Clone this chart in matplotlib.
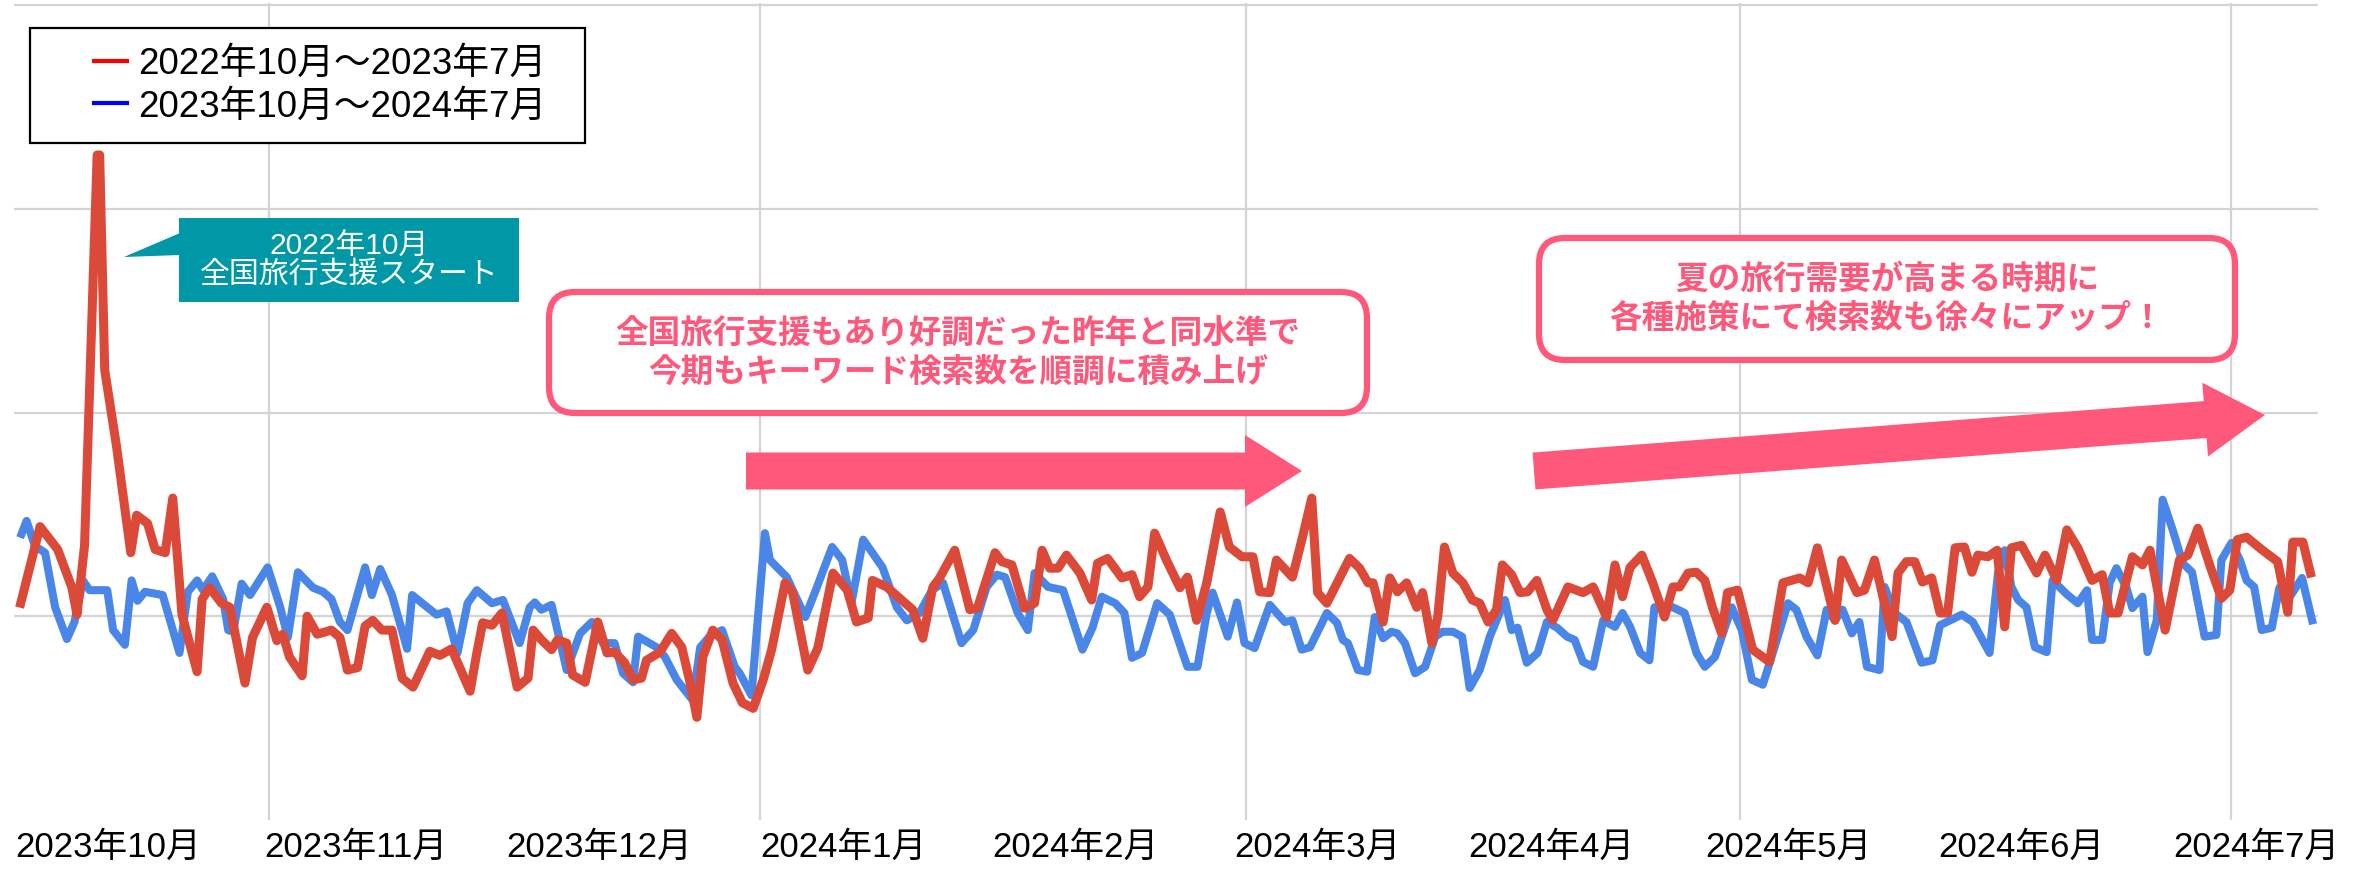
import matplotlib
matplotlib.use('Agg')
import matplotlib.pyplot as plt
import matplotlib.patches as mpatches
import matplotlib.transforms as mtransforms
from matplotlib.lines import Line2D

plt.rcParams['font.family'] = ['Liberation Sans', 'Noto Sans CJK JP', 'DejaVu Sans']

# Series names
label_prev = '2022年10月～2023年7月'
label_curr = '2023年10月～2024年7月'

# Previous period (red): day offset from start, search index (0-100)
prev_days = [0.1, 2.4, 4.5, 6.2, 6.8, 7.7, 9.2, 9.5, 10.1, 11.5, 13.2, 13.9, 15.2, 16.1, 17.3, 18.2,
             19.3, 21.1, 21.7, 22.6, 24.0, 25.0, 26.8, 27.7, 29.4, 30.6, 31.3, 32.1, 33.6, 34.2, 35.4,
             37.1, 38.1, 39.0, 40.2, 41.1, 42.0, 43.1, 44.3, 45.5, 46.8, 48.8, 50.0, 51.4, 53.6, 54.4,
             55.1, 56.2, 57.4, 59.2, 60.5, 61.1, 62.1, 63.3, 64.0, 65.1, 65.8, 67.3, 68.8, 69.9, 70.8,
             72.0, 73.0, 74.0, 74.6, 76.2, 77.6, 78.8, 79.8, 80.6, 81.3, 82.5, 83.6, 84.9, 86.0, 87.3,
             88.5, 89.5, 91.1, 92.0, 93.8, 95.0, 96.8, 98.5, 99.6, 101.0, 101.5, 103.2, 106.3, 107.5,
             108.7, 109.5, 111.3, 113.1, 114.0, 116.1, 116.9, 118.1, 119.6, 120.8, 121.7, 122.6, 123.6,
             124.6, 126.2, 127.6, 128.3, 129.5, 131.2, 132.4, 133.3, 134.3, 135.1, 136.5, 138.1, 139.0,
             140.1, 141.3, 142.9, 144.0, 145.5, 146.8, 147.6, 148.8, 149.6, 151.5, 152.7, 153.8, 154.5,
             155.6, 158.3, 159.5, 160.5, 161.1, 162.3, 163.1, 164.0, 165.1, 166.3, 167.0, 168.1, 168.8,
             169.6, 170.6, 171.8, 172.9, 173.8, 174.8, 175.8, 176.5, 177.6, 178.6, 179.5, 180.6, 181.8,
             182.5, 184.3, 186.1, 187.3, 188.9, 189.9, 190.8, 191.7, 193.1, 194.4, 195.8, 196.8, 197.6,
             198.6, 199.6, 200.6, 201.5, 202.6, 203.3, 204.5, 206.3, 208.3, 209.9, 211.9, 212.9, 214.0,
             216.1, 216.9, 218.7, 219.6, 220.8, 222.9, 223.6, 224.6, 225.6, 226.5, 227.6, 228.6, 229.5,
             230.4, 231.5, 232.4, 233.1, 234.3, 235.4, 236.3, 237.1, 238.3, 240.1, 241.1, 242.5, 243.7,
             245.0, 246.7, 247.9, 248.8, 249.8, 251.5, 252.7, 253.6, 255.4, 257.1, 258.1, 259.3, 260.7,
             262.1, 263.1, 264.0, 265.1, 267.0, 268.8, 270.0, 270.6, 271.8, 272.7]
prev_vals = [26.6, 36.0, 33.2, 28.5, 25.2, 33.7, 81.6, 81.6, 55.2, 45.9, 32.8, 37.4, 36.4, 33.2, 32.8, 39.5,
             25.2, 18.2, 27.1, 28.5, 26.6, 26.1, 16.8, 22.4, 26.1, 22.0, 22.8, 20.0, 17.7, 25.0, 22.8,
             23.3, 22.4, 18.4, 18.7, 23.8, 24.5, 23.3, 23.3, 17.4, 16.3, 20.7, 20.2, 21.0, 15.8, 20.5,
             24.2, 23.9, 25.4, 16.3, 17.4, 23.3, 22.1, 20.9, 22.1, 21.7, 17.8, 16.9, 24.3, 20.5, 20.6,
             19.3, 17.2, 17.4, 19.6, 20.6, 22.9, 21.2, 16.8, 12.6, 20.0, 23.3, 22.1, 16.8, 14.4, 13.7,
             17.2, 20.9, 29.1, 27.9, 18.4, 21.1, 30.3, 28.2, 24.3, 24.8, 29.4, 28.6, 25.8, 22.3,
             28.6, 29.7, 33.1, 25.8, 26.0, 32.8, 31.7, 31.3, 26.0, 26.6, 33.1, 30.9, 30.9,
             32.5, 30.3, 27.0, 31.5, 32.1, 29.7, 30.1, 27.4, 28.6, 35.2, 31.9, 28.5, 29.8,
             24.5, 29.1, 37.8, 33.5, 32.3, 32.3, 28.0, 27.9, 31.9, 29.8, 34.7, 39.5, 27.9,
             26.6, 32.1, 30.9, 29.1, 29.1, 24.3, 29.7, 28.0, 29.1, 26.1, 27.9, 21.7, 24.9,
             33.5, 30.3, 29.1, 27.0, 26.6, 24.3, 25.8, 31.3, 30.1, 27.9, 28.0, 29.4, 25.8,
             24.5, 28.6, 27.9, 28.6, 24.9, 31.3, 27.4, 31.0, 32.5, 29.1, 24.9, 28.6, 28.6,
             30.3, 30.4, 29.4, 26.1, 22.9, 27.9, 28.2, 20.9, 19.4, 29.1, 29.7, 29.1, 33.4,
             24.5, 31.9, 27.9, 28.2, 31.9, 22.5, 30.3, 31.7, 31.7, 29.2, 29.7, 25.4, 25.4,
             33.4, 33.5, 30.4, 32.5, 32.3, 33.1, 23.7, 33.4, 33.7, 30.3, 32.5, 29.4, 35.6,
             33.4, 29.4, 30.1, 25.4, 25.4, 32.3, 31.3, 33.1, 23.3, 31.9, 32.5, 35.8, 31.3,
             27.2, 28.2, 34.4, 34.7, 33.1, 31.7, 25.5, 34.1, 34.1, 30.3]

# Current period (blue)
curr_days = [0.2, 0.8, 1.8, 3.0, 4.2, 5.6, 6.5, 7.5, 8.3, 10.4, 11.1, 12.5, 13.3, 14.0, 14.9, 17.0,
             19.0, 20.0, 21.1, 21.8, 22.9, 24.2, 24.8, 25.4, 26.4, 27.4, 29.5, 31.0, 31.9, 33.1, 34.9,
             36.1, 37.1, 38.1, 39.0, 41.1, 41.9, 42.9, 44.3, 46.1, 46.7, 49.6, 50.8, 52.1, 53.3, 54.4,
             56.2, 57.5, 59.5, 60.7, 61.3, 62.1, 63.3, 65.1, 66.7, 68.1, 69.4, 70.8, 71.8, 73.0, 73.6,
             75.8, 76.8, 78.2, 80.1, 81.0, 82.1, 83.6, 85.1, 85.7, 87.1, 88.7, 89.3, 91.3, 93.5, 94.9,
             96.7, 97.9, 99.0, 100.4, 102.7, 104.4, 105.6, 107.1, 108.6, 109.9, 112.1, 113.5, 115.1,
             116.3, 117.3, 118.8, 120.0, 120.8, 122.4, 124.2, 126.5, 127.7, 128.8, 130.4, 131.5, 132.4,
             133.6, 135.4, 136.9, 139.0, 140.2, 141.3, 142.0, 143.8, 144.9, 145.8, 147.0, 148.8, 150.6,
             151.5, 152.6, 153.6, 155.6, 156.8, 157.5, 158.1, 159.3, 160.4, 161.3, 162.3, 163.3, 164.0,
             164.9, 166.1, 167.3, 168.5, 169.4, 170.6, 171.7, 172.6, 173.8, 175.0, 176.8, 177.6, 178.3,
             179.4, 180.7, 181.8, 183.0, 184.2, 185.1, 186.1, 187.3, 188.5, 189.9, 190.8, 191.7, 192.9,
             194.0, 194.6, 196.8, 198.2, 199.6, 200.6, 201.8, 203.8, 205.0, 206.2, 207.5, 208.9, 210.5,
             211.5, 212.7, 214.0, 215.1, 216.1, 217.0, 218.1, 219.0, 219.9, 221.4, 222.0, 223.2, 224.6,
             226.4, 227.7, 228.6, 229.8, 231.2, 232.5, 234.5, 235.5, 236.3, 237.1, 237.9, 238.9, 239.9,
             241.3, 242.0, 243.8, 245.0, 246.1, 246.7, 247.9, 248.8, 249.6, 250.8, 251.5, 252.7, 253.3,
             254.4, 255.1, 256.3, 257.5, 258.6, 260.1, 261.5, 262.1, 263.3, 264.3, 265.1, 266.0, 266.9,
             268.1, 269.0, 270.0, 271.7, 272.9]
curr_vals = [35.1, 36.7, 33.6, 32.8, 26.1, 22.2, 24.3, 29.4, 28.2, 28.2, 23.3, 21.5, 29.4, 26.9, 28.0, 27.6,
             20.5, 28.0, 29.4, 28.2, 29.9, 27.1, 23.3, 23.1, 29.0, 27.6, 31.0, 26.1, 22.4, 30.4, 28.5,
             28.0, 27.1, 24.3, 23.3, 31.0, 27.6, 30.8, 27.6, 21.0, 27.6, 25.2, 25.6, 20.5, 26.6, 28.2,
             26.6, 27.0, 21.7, 26.1, 26.7, 25.8, 26.4, 18.4, 22.9, 24.3, 21.7, 21.7, 18.0, 16.9, 22.5,
             21.2, 20.0, 17.2, 14.7, 21.2, 22.5, 23.3, 18.8, 18.0, 15.3, 35.2, 31.9, 29.8, 24.9, 28.6,
             33.5, 31.9, 26.6, 34.4, 31.0, 26.1, 24.5, 25.4, 28.2, 29.1, 21.7, 23.3, 28.6,
             30.1, 29.8, 25.4, 23.3, 30.3, 28.6, 28.2, 20.9, 23.6, 27.4, 26.6, 25.4, 19.9,
             20.5, 26.6, 25.2, 18.8, 18.8, 25.4, 27.9, 22.5, 26.7, 21.7, 21.1, 26.4, 24.3,
             24.5, 20.9, 21.2, 25.4, 24.2, 22.1, 21.7, 18.4, 18.2, 24.9, 22.3, 23.1, 22.9,
             21.7, 18.0, 18.8, 22.5, 23.1, 23.1, 22.5, 16.2, 18.4, 22.5, 27.0, 23.3, 23.6,
             19.3, 20.5, 24.3, 23.6, 22.5, 22.1, 19.4, 18.8, 24.5, 23.7, 25.4, 23.7, 20.5,
             19.6, 26.1, 26.1, 25.4, 20.5, 18.8, 20.0, 26.1, 23.3, 17.2, 16.6, 21.2, 26.6,
             25.8, 22.5, 20.2, 25.8, 24.5, 25.8, 22.9, 24.3, 18.8, 18.4, 28.6, 25.4, 24.3,
             19.3, 19.6, 23.9, 24.5, 25.2, 24.3, 20.5, 30.3, 33.1, 28.6, 27.0, 26.1, 21.2,
             20.6, 29.4, 27.6, 26.6, 28.2, 22.1, 22.1, 29.1, 30.9, 28.5, 26.0, 27.4, 20.6,
             24.5, 39.3, 35.6, 31.5, 30.4, 22.5, 22.7, 31.9, 34.0, 31.9, 29.4, 28.6, 23.3,
             23.6, 28.5, 27.0, 29.7, 24.5]

# Month labels along the bottom and where they sit (in days)
month_labels = ['2023年10月', '2023年11月', '2023年12月', '2024年1月', '2024年2月',
                '2024年3月', '2024年4月', '2024年5月', '2024年6月', '2024年7月']
month_pos = [10.5, 40.0, 69.0, 98.0, 125.7, 154.5, 182.3, 210.5, 238.3, 266.2]

# Vertical gridlines of the original trend chart (in days)
grid_days = [29.6, 88.1, 146.0, 204.8, 263.3]

# Annotation texts
note_start = '2022年10月\n全国旅行支援スタート'
note_mid = '全国旅行支援もあり好調だった昨年と同水準で\n今期もキーワード検索数を順調に積み上げ'
note_summer = '夏の旅行需要が高まる時期に\n各種施策にて検索数も徐々にアップ！'

W, H = 2379, 871
fig = plt.figure(figsize=(W / 100, H / 100), dpi=100)
# helper transform: pixel coordinates of the picture, origin top-left
px = mtransforms.Affine2D().scale(1 / W, -1 / H).translate(0, 1) + fig.transFigure

ax = fig.add_axes([14 / W, (H - 820) / H, 2304 / W, 817 / H])
ax.plot(curr_days, curr_vals, color='#4a86e8', lw=5.8)
ax.plot(prev_days, prev_vals, color='#db4a39', lw=6.5)

ax.set_xlim(-0.7, 273.6)
ax.set_ylim(0, 100.25)
ax.set_yticks([25, 50, 75, 100])
ax.tick_params(axis='y', length=0, labelleft=False)
ax.yaxis.grid(True, color='#d4d4d4', lw=1.6)

ax.set_xticks(month_pos)
ax.set_xticklabels(month_labels, fontsize=25)
ax.set_xticks(grid_days, minor=True)
ax.tick_params(axis='x', which='both', length=0, pad=8)
ax.xaxis.grid(True, which='minor', color='#d4d4d4', lw=1.6)
ax.set_axisbelow(True)
for s in ax.spines.values():
    s.set_visible(False)

# Legend with a plain black box
fig.add_artist(mpatches.Rectangle((30, 28), 555, 115, transform=px, fc='white',
                                  ec='black', lw=1.6, zorder=2))
handles = [Line2D([], [], color='#ff0000', lw=3), Line2D([], [], color='#0000ff', lw=3)]
leg = fig.legend(handles, [label_prev, label_curr], loc='upper left',
                 bbox_to_anchor=(94, 47), bbox_transform=px, frameon=False,
                 fontsize=26.5, handlelength=0.9, handletextpad=0.3,
                 labelspacing=0.2, borderpad=0, borderaxespad=0)
leg.set_zorder(3)

# Teal callout for the 2022 spike
teal = '#0098a6'
fig.add_artist(mpatches.Rectangle((179, 218), 340, 84, transform=px, fc=teal, ec='none'))
fig.add_artist(mpatches.Polygon([(180, 233), (124, 257), (180, 255)], transform=px,
                                fc=teal, ec='none'))
fig.text(349, 261, note_start, transform=px, ha='center', va='center', color='white',
         fontsize=21.5, linespacing=0.98)

# Pink rounded boxes and arrows
pink = '#ff587b'
fig.add_artist(mpatches.FancyBboxPatch((549, 292), 818, 121, transform=px,
                                       boxstyle='round,pad=0,rounding_size=26',
                                       fc='white', ec=pink, lw=4.5))
fig.text(958, 353, note_mid, transform=px, ha='center', va='center', color=pink,
         fontsize=23.5, fontweight='bold', linespacing=1.2, family=['Noto Sans CJK JP'])

fig.add_artist(mpatches.FancyBboxPatch((1539, 238), 696, 122, transform=px,
                                       boxstyle='round,pad=0,rounding_size=26',
                                       fc='white', ec=pink, lw=4.5))
fig.text(1887, 299, note_summer, transform=px, ha='center', va='center', color=pink,
         fontsize=23.5, fontweight='bold', linespacing=1.25, family=['Noto Sans CJK JP'])

fig.add_artist(mpatches.FancyArrow(746, 471, 556, 0, width=37, head_width=72,
                                   head_length=57, length_includes_head=True,
                                   transform=px, fc=pink, ec='none'))
fig.add_artist(mpatches.FancyArrow(1534, 471, 731, -56, width=37, head_width=74,
                                   head_length=60, length_includes_head=True,
                                   transform=px, fc=pink, ec='none'))

fig.savefig('out.png', dpi=100, facecolor='white')
